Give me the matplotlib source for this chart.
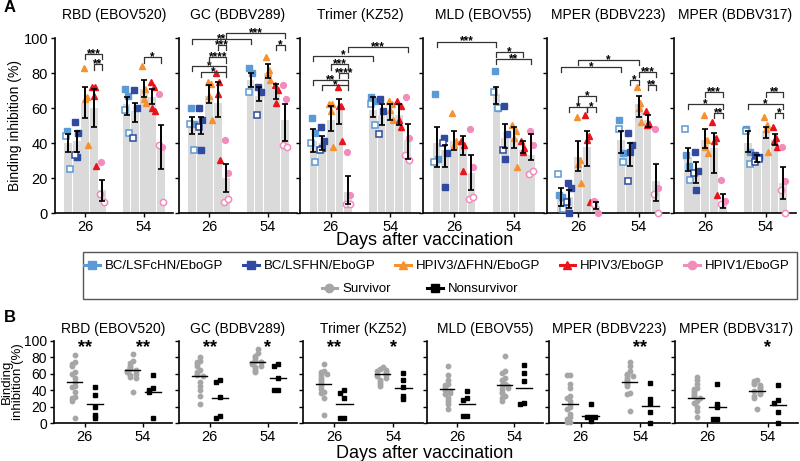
import matplotlib.pyplot as plt
from matplotlib.lines import Line2D
from matplotlib.patches import Rectangle

plt.rcParams['font.family'] = ['Liberation Sans', 'DejaVu Sans']

W, H = 800, 461

ANTIGENS = ["RBD (EBOV520)", "GC (BDBV289)", "Trimer (KZ52)",
            "MLD (EBOV55)", "MPER (BDBV223)", "MPER (BDBV317)"]
VACCINES = ["BC/LSFcHN/EboGP", "BC/LSFHN/EboGP", "HPIV3/ΔFHN/EboGP",
            "HPIV3/EboGP", "HPIV1/EboGP"]
DAYS = ["26", "54"]
COLORS = ["#5b9bd5", "#2f4a9e", "#f7902e", "#e8131b", "#f28cbd"]
MARKERS = ["s", "s", "^", "^", "o"]

# panel A: 10 bars per antigen (day 26 x5 vaccines, then day 54 x5)
BAR_MEAN = {
    "RBD (EBOV520)": [40, 41, 63, 60, 13, 62, 58, 71, 66, 38],
    "GC (BDBV289)": [50, 50, 67, 63, 20, 76, 67, 80, 70, 53],
    "Trimer (KZ52)": [41, 40, 53, 58, 12, 59, 56, 58, 56, 42],
    "MLD (EBOV55)": [40, 36, 41, 39, 23, 68, 43, 43, 36, 33],
    "MPER (BDBV223)": [10, 9, 32, 38, 4, 42, 35, 62, 53, 18],
    "MPER (BDBV317)": [32, 23, 42, 37, 6, 40, 30, 47, 42, 17],
}
ERR_LO = {
    "RBD (EBOV520)": [35, 35, 54, 49, 7, 56, 52, 66, 62, 25],
    "GC (BDBV289)": [45, 45, 63, 55, 12, 72, 64, 77, 65, 41],
    "Trimer (KZ52)": [35, 36, 47, 51, 5, 55, 50, 53, 50, 31],
    "MLD (EBOV55)": [26, 26, 36, 33, 13, 62, 37, 37, 34, 30],
    "MPER (BDBV223)": [4, 3, 24, 27, 2, 34, 27, 55, 49, 7],
    "MPER (BDBV317)": [24, 17, 37, 23, 3, 35, 29, 43, 39, 8],
}
ERR_HI = {
    "RBD (EBOV520)": [45, 47, 72, 71, 19, 66, 63, 76, 71, 50],
    "GC (BDBV289)": [55, 55, 73, 75, 28, 80, 72, 85, 74, 62],
    "Trimer (KZ52)": [48, 44, 61, 65, 21, 66, 62, 62, 62, 51],
    "MLD (EBOV55)": [49, 39, 47, 44, 33, 72, 51, 49, 41, 45],
    "MPER (BDBV223)": [14, 13, 41, 47, 6, 47, 40, 67, 56, 28],
    "MPER (BDBV317)": [37, 29, 48, 46, 11, 47, 33, 49, 45, 26],
}
# survivors (filled) and nonsurvivors (open)
PTS_FILLED = {
    "RBD (EBOV520)": [[47], [52, 46, 32], [83, 66, 65, 39], [72, 72, 67, 27], [29, 6],
                      [71, 67], [70, 60], [84, 71, 65, 63], [75, 72, 60, 58], [68, 38]],
    "GC (BDBV289)": [[60, 51], [60, 53, 36], [75, 74, 67, 53], [80, 75, 68, 30], [42, 23],
                     [83, 80], [72, 69], [89, 82, 80, 76], [73, 70, 63], [73, 65]],
    "Trimer (KZ52)": [[54, 46], [49, 41, 37], [62, 62, 58, 38], [72, 61, 61, 41], [35, 10],
                      [66, 64], [65, 58], [64, 62, 59, 53], [64, 61, 53, 49], [66, 43]],
    "MLD (EBOV55)": [[68, 31], [43, 34, 15], [57, 41, 39], [41, 39, 24], [48, 26],
                     [81, 60], [61, 45, 31], [50, 47, 43, 26], [41, 37, 35], [47, 39]],
    "MPER (BDBV223)": [[10, 9], [17, 14, 0], [55, 30, 28, 17], [56, 44, 42, 6], [7, 0],
                       [53, 34], [46, 39, 35], [72, 63, 60, 52], [58, 51, 50], [48, 14]],
    "MPER (BDBV317)": [[33, 27], [35, 24, 13], [56, 42, 38, 34], [52, 43, 41, 10], [19, 7],
                       [48, 35], [33, 32], [55, 50, 48, 35], [49, 43, 41, 38], [38, 18]],
}
PTS_OPEN = {
    "RBD (EBOV520)": [[44, 25], [33], [], [], [11, 6], [59, 46], [43], [], [], [39, 6]],
    "GC (BDBV289)": [[51, 36], [49], [], [], [6, 8], [69], [56], [], [], [39, 38]],
    "Trimer (KZ52)": [[40, 29], [36], [], [], [5, 5], [62, 50], [45], [], [], [33, 30]],
    "MLD (EBOV55)": [[29], [40], [], [], [8, 9], [69, 60], [36], [], [], [22, 24]],
    "MPER (BDBV223)": [[22, 2], [6], [], [], [5], [48, 29], [18], [], [], [11, 0]],
    "MPER (BDBV317)": [[48, 19], [23], [], [], [5], [47, 28], [29, 31], [], [], [13, 0]],
}
# (bar i, bar j, height, label)
BRACKETS = {
    "RBD (EBOV520)": [(2, 4, 91, "***"), (3, 4, 85, "**"), (7, 9, 89, "*")],
    "GC (BDBV289)": [(0, 5, 99.5, "**"), (4, 9, 103, "***"), (3, 4, 96, "***"),
                     (2, 4, 89, "****"), (0, 4, 84, "*"), (1, 4, 80.5, "*"), (8, 9, 96, "*")],
    "Trimer (KZ52)": [(0, 5, 90, "*"), (4, 9, 95, "***"), (2, 4, 85, "***"),
                      (3, 4, 80, "****"), (0, 4, 76, "**"), (1, 4, 73, "*")],
    "MLD (EBOV55)": [(0, 5, 98, "***"), (5, 8, 92, "*"), (5, 9, 88, "**")],
    "MPER (BDBV223)": [(2, 7, 87.5, "*"), (0, 5, 83.5, "*"), (6, 7, 76, "*"),
                       (7, 9, 80.5, "***"), (8, 9, 73, "**"), (2, 4, 67, "*"),
                       (1, 3, 60.5, "*"), (3, 4, 60.5, "*")],
    "MPER (BDBV317)": [(2, 4, 69, "***"), (0, 4, 62.5, "*"), (3, 4, 57, "**"),
                       (7, 9, 69, "**"), (5, 9, 62.5, "*"), (8, 9, 57, "*")],
}

# panel B
B_SURV_26 = {
    "RBD (EBOV520)": [83, 74, 72, 70, 62, 60, 55, 50, 45, 44, 38, 32, 30, 27, 6],
    "GC (BDBV289)": [80, 76, 75, 72, 70, 65, 62, 60, 58, 57, 50, 45, 40, 33, 23],
    "Trimer (KZ52)": [72, 63, 62, 60, 58, 55, 52, 50, 48, 45, 42, 38, 36, 30, 10],
    "MLD (EBOV55)": [70, 58, 53, 48, 46, 44, 41, 40, 39, 37, 35, 31, 27, 23, 17],
    "MPER (BDBV223)": [58, 58, 47, 43, 33, 31, 27, 23, 19, 17, 11, 7, 5, 1, 1],
    "MPER (BDBV317)": [56, 52, 47, 43, 41, 39, 37, 34, 33, 31, 27, 24, 20, 15, 7],
}
B_SURV_54 = {
    "RBD (EBOV520)": [84, 76, 73, 70, 68, 66, 65, 64, 63, 62, 60, 58, 56, 55, 38],
    "GC (BDBV289)": [90, 85, 82, 80, 78, 76, 75, 74, 73, 72, 70, 68, 66, 64, 62],
    "Trimer (KZ52)": [68, 66, 65, 64, 63, 61, 60, 59, 58, 57, 55, 52, 50, 47, 45],
    "MLD (EBOV55)": [82, 63, 61, 55, 53, 47, 46, 45, 43, 41, 38, 37, 33, 30, 27],
    "MPER (BDBV223)": [74, 69, 63, 60, 59, 57, 55, 53, 51, 49, 47, 45, 37, 35, 15],
    "MPER (BDBV317)": [53, 51, 49, 47, 46, 44, 43, 41, 39, 38, 37, 35, 33, 31, 17],
}
B_NON_26 = {
    "RBD (EBOV520)": [44, 34, 20, 10, 6],
    "GC (BDBV289)": [52, 50, 32, 8, 6],
    "Trimer (KZ52)": [40, 37, 30, 6, 6],
    "MLD (EBOV55)": [39, 31, 28, 8, 8],
    "MPER (BDBV223)": [23, 7, 7, 7, 3],
    "MPER (BDBV317)": [47, 23, 19, 5, 5],
}
B_NON_54 = {
    "RBD (EBOV520)": [58, 43, 40, 38, 6],
    "GC (BDBV289)": [72, 70, 55, 40, 40],
    "Trimer (KZ52)": [61, 52, 44, 33, 29],
    "MLD (EBOV55)": [71, 61, 51, 25, 23],
    "MPER (BDBV223)": [49, 29, 24, 13, 0],
    "MPER (BDBV317)": [46, 28, 25, 13, 0],
}
B_SURV_LINE = {
    "RBD (EBOV520)": (50, 65), "GC (BDBV289)": (57, 74), "Trimer (KZ52)": (48, 60),
    "MLD (EBOV55)": (41, 46), "MPER (BDBV223)": (23, 50), "MPER (BDBV317)": (31, 39),
}
B_NON_LINE = {
    "RBD (EBOV520)": (23, 38), "GC (BDBV289)": (31, 55), "Trimer (KZ52)": (23, 43),
    "MLD (EBOV55)": (23, 43), "MPER (BDBV223)": (8, 21), "MPER (BDBV317)": (20, 22),
}
B_STARS = {
    "RBD (EBOV520)": ("**", "**"), "GC (BDBV289)": ("**", "*"), "Trimer (KZ52)": ("**", "*"),
    "MLD (EBOV55)": ("", ""), "MPER (BDBV223)": ("", "**"), "MPER (BDBV317)": ("", "*"),
}

A_LEFT = [55, 179, 300, 423, 547, 674]
A_RIGHT = [173, 297, 420, 544, 669, 796]
B_LEFT = [54, 179, 303, 427, 549, 675]
B_RIGHT = [172, 297, 423, 543, 670, 798]

GAP = 1.86
BAR_X = [0, 1, 2, 3, 4] + [5 + GAP + k for k in range(5)]
FILL_OFF = [-0.18, 0.2, -0.02, 0.3]
OPEN_OFF = [-0.25, 0.22]

fig = plt.figure(figsize=(W / 100, H / 100), dpi=100)


def add_ax(l, r, top, bottom):
    return fig.add_axes([l / W, 1 - bottom / H, (r - l) / W, (bottom - top) / H])


def style(ax, first, labelsize):
    ax.spines[["top", "right"]].set_visible(False)
    ax.spines[["left", "bottom"]].set_linewidth(1.2)
    ax.set_ylim(0, 100)
    ax.set_yticks(range(0, 101, 20))
    ax.tick_params(length=3, width=1, labelsize=labelsize, pad=2)
    if not first:
        ax.set_yticklabels([])


def swarm(vals, step):
    offs = []
    order = [0, -1, 1, -2, 2, -3, 3]
    placed = []
    for v in vals:
        n = sum(1 for p in placed if abs(p - v) < 4)
        offs.append(order[n % len(order)] * step)
        placed.append(v)
    return offs


# ---------- panel A ----------
for k, name in enumerate(ANTIGENS):
    ax = add_ax(A_LEFT[k], A_RIGHT[k], 38, 213)
    style(ax, k == 0, 10.5)
    ax.set_xlim(-1.55, 12.3)
    ax.set_xticks([2, 5 + GAP + 2])
    ax.set_xticklabels(DAYS)
    ax.set_title(name, fontsize=10, pad=14)
    means = BAR_MEAN[name]
    ax.bar(BAR_X, means, width=0.9, color="#dadada", zorder=1)
    for i, x in enumerate(BAR_X):
        v = i % 5
        ax.errorbar(x, means[i], yerr=[[means[i] - ERR_LO[name][i]], [ERR_HI[name][i] - means[i]]],
                    fmt="none", ecolor="black", elinewidth=1.4, capsize=2, capthick=1.2, zorder=4)
        for j, y in enumerate(PTS_FILLED[name][i]):
            ax.plot(x + FILL_OFF[j % 4], y, MARKERS[v], color=COLORS[v], ms=4.2,
                    mec=COLORS[v], zorder=3, clip_on=False)
        for j, y in enumerate(PTS_OPEN[name][i]):
            ax.plot(x + OPEN_OFF[j % 2], y, MARKERS[v], mfc="white", mec=COLORS[v],
                    ms=4.5, mew=1.1, zorder=3, clip_on=False)
    for i, j, h, lab in BRACKETS[name]:
        x1, x2 = BAR_X[i], BAR_X[j]
        ax.plot([x1, x1, x2, x2], [h - 3, h, h, h - 3], color="#333333", lw=0.9,
                clip_on=False, zorder=5)
        ax.text((x1 + x2) / 2, h - 1.8, lab, ha="center", va="baseline",
                fontsize=8.5, fontweight="bold", clip_on=False)
    if k == 0:
        ax.set_ylabel("Binding inhibition (%)", fontsize=10, labelpad=1)

fig.text(425 / W, 1 - 240 / H, "Days after vaccination", ha="center", va="center", fontsize=13)
fig.text(4 / W, 1 - 8 / H, "A", fontsize=12, fontweight="bold", va="center")

# ---------- legend ----------
vac_handles = [Line2D([], [], color=COLORS[v], marker=MARKERS[v], lw=2.2, ms=6)
               for v in range(5)]
fig.legend(vac_handles, VACCINES, loc="center", bbox_to_anchor=(437 / W, 1 - 266 / H),
           ncol=5, frameon=False, fontsize=9.5, handlelength=1.2, handletextpad=0.35,
           columnspacing=1.5, borderpad=0, borderaxespad=0)
surv_handles = [Line2D([], [], color="#a6a6a6", marker="o", lw=2.2, ms=6),
                Line2D([], [], color="black", marker="s", lw=2.2, ms=6)]
fig.legend(surv_handles, ["Survivor", "Nonsurvivor"], loc="center",
           bbox_to_anchor=(420 / W, 1 - 289 / H), ncol=2, frameon=False, fontsize=9.5,
           handlelength=1.2, handletextpad=0.35, columnspacing=2.8, borderpad=0,
           borderaxespad=0)
fig.add_artist(Rectangle((83 / W, 1 - 299 / H), (797 - 83) / W, 47 / H,
                         transform=fig.transFigure, fill=False, lw=1, ec="#555555"))

# ---------- panel B ----------
for k, name in enumerate(ANTIGENS):
    ax = add_ax(B_LEFT[k], B_RIGHT[k], 341, 423)
    style(ax, k == 0, 10)
    ax.set_xlim(-0.53, 1.5)
    ax.set_xticks([0, 1])
    ax.set_xticklabels(DAYS, fontsize=10.5)
    ax.set_title(name, fontsize=10, pad=6)
    surv = [B_SURV_26[name], B_SURV_54[name]]
    non = [B_NON_26[name], B_NON_54[name]]
    for d in range(2):
        offs = swarm(surv[d], 0.05)
        ax.plot([d - 0.17 + o for o in offs], surv[d], "o", color="#a6a6a6", ms=3.2,
                clip_on=False, zorder=3)
        offs = swarm(non[d], 0.07)
        ax.plot([d + 0.17 + o for o in offs], non[d], "s", color="black", ms=3.3,
                clip_on=False, zorder=3)
        ax.plot([d - 0.31, d - 0.05], [B_SURV_LINE[name][d]] * 2, color="black", lw=1, zorder=4)
        ax.plot([d + 0.03, d + 0.31], [B_NON_LINE[name][d]] * 2, color="black", lw=1, zorder=4)
        if B_STARS[name][d]:
            ax.text(d, 86, B_STARS[name][d], ha="center", va="baseline", fontsize=13,
                    fontweight="bold", clip_on=False)
    if k == 0:
        ax.set_ylabel("Binding\ninhibition (%)", fontsize=9.5, labelpad=0, linespacing=0.95)

fig.text(425 / W, 1 - 453 / H, "Days after vaccination", ha="center", va="center", fontsize=13)
fig.text(4 / W, 1 - 318 / H, "B", fontsize=12, fontweight="bold", va="center")

fig.savefig("out.png", dpi=100)
